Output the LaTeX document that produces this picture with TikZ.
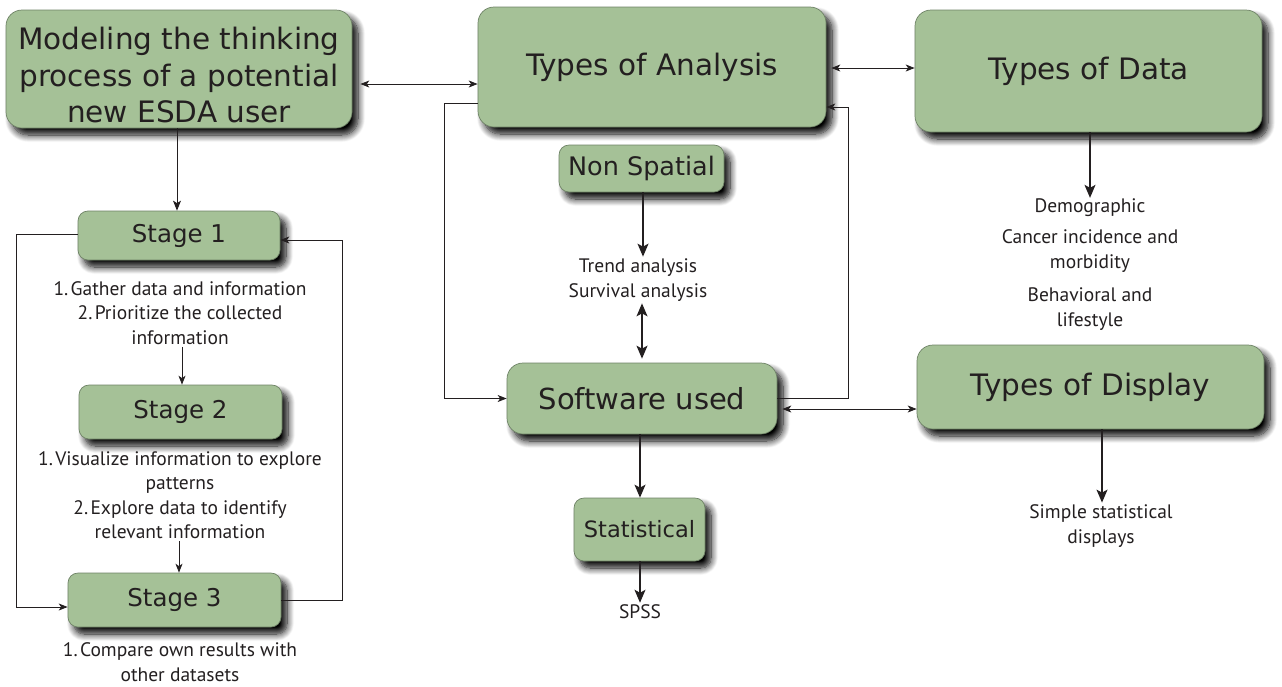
\documentclass[tikz,border=0pt]{standalone}
\usepackage{fontspec}
\setmainfont{PT Sans}
\newfontfamily\boxfont{DejaVu Sans}
\usetikzlibrary{arrows.meta,shadows.blur,calc}
\definecolor{boxgreen}{HTML}{A5C197}
\definecolor{boxedge}{HTML}{6E8266}
\definecolor{ink}{HTML}{231F20}
\tikzset{
  box/.style={draw=boxedge, line width=0.7pt, fill=boxgreen, rectangle, rounded corners=16pt,
    inner sep=0pt, align=center, text=ink,
    blur shadow={shadow xshift=6pt, shadow yshift=-7pt, shadow blur steps=10, shadow blur radius=7pt, shadow opacity=100}},
  smallbox/.style={box, rounded corners=10pt},
  note/.style={align=center, inner sep=2pt, text=ink, font=\fontsize{19.5}{24.5}\selectfont},
  conn/.style={draw=ink, line width=0.9pt},
  thinarrow/.style={conn, -{Stealth[length=9pt,width=7pt,inset=2.5pt]}},
  thindouble/.style={conn, {Stealth[length=9pt,width=7pt,inset=2.5pt]}-{Stealth[length=9pt,width=7pt,inset=2.5pt]}},
  bigarrow/.style={draw=ink, line width=1.3pt, -{Stealth[length=13pt,width=11pt,inset=3pt]}},
  bigdouble/.style={draw=ink, line width=1.3pt, {Stealth[length=13pt,width=11pt,inset=3pt]}-{Stealth[length=13pt,width=11pt,inset=3pt]}},
  midarrow/.style={draw=ink, line width=1pt, -{Stealth[length=10pt,width=8pt,inset=2.5pt]}},
}
\newcommand{\nd}{.\hspace{0.12em}}
\begin{document}
\begin{tikzpicture}[x=1pt,y=-1pt]
\useasboundingbox (0,0) rectangle (1282,686);

% boxes
\node[box, minimum width=346pt, minimum height=118pt, font=\boxfont\fontsize{29.5}{36.5}\selectfont] (model) at (179,69)
  {\raisebox{-16pt}[55pt][55pt]{\begin{tabular}{@{}c@{}}Modeling the thinking\\process of a potential\\new ESDA user\end{tabular}}};
\node[box, minimum width=348pt, minimum height=120pt, font=\boxfont\fontsize{29.5}{36}\selectfont] (analysis) at (652,67) {Types of Analysis};
\node[box, minimum width=347pt, minimum height=122pt, font=\boxfont\fontsize{29.5}{36}\selectfont] (data) at (1088.5,71) {Types of Data};
\node[smallbox, minimum width=165pt, minimum height=47pt, font=\boxfont\fontsize{25.5}{30}\selectfont] (nonsp) at (641.5,168.5) {Non Spatial};
\node[box, minimum width=270pt, minimum height=71pt, font=\boxfont\fontsize{29}{34}\selectfont] (soft) at (642,398.5) {Software used};
\node[smallbox, minimum width=131pt, minimum height=63pt, font=\boxfont\fontsize{22.5}{28}\selectfont] (stat) at (639.5,529.5) {Statistical};
\node[box, minimum width=347pt, minimum height=84pt, font=\boxfont\fontsize{29.5}{36}\selectfont] (display) at (1090.5,387) {Types of Display};
\node[smallbox, minimum width=202pt, minimum height=49pt, font=\boxfont\fontsize{24.5}{30}\selectfont] (stage1) at (179,235.5) {Stage 1};
\node[smallbox, minimum width=203pt, minimum height=54pt, font=\boxfont\fontsize{24.5}{30}\selectfont] (stage2) at (180.5,412) {Stage 2};
\node[smallbox, minimum width=213pt, minimum height=54pt, font=\boxfont\fontsize{24.5}{30}\selectfont] (stage3) at (174.5,600) {Stage 3};

% notes
\node[note] (n1) at (180,313) {1\nd Gather data and information\\2\nd Prioritize the collected\\information};
\node[note] (n2) at (180,495) {1\nd Visualize information to explore\\patterns\\2\nd Explore data to identify\\relevant information};
\node[note] (n3) at (180,662) {1\nd Compare own results with\\other datasets};
\node[note] (trend) at (638,280) {Trend analysis\\Survival analysis};
\node[note, inner sep=1pt] (demo) at (1090,208) {Demographic};
\node[note, inner sep=1pt] (cancer) at (1090,251) {Cancer incidence and\\morbidity};
\node[note, inner sep=1pt] (behav) at (1090,309) {Behavioral and\\lifestyle};
\node[note] (simple) at (1101,526) {Simple statistical\\displays};
\node[note] (spss) at (640,612) {SPSS};

% helper coordinates
\coordinate (yA) at (0,84);
\coordinate (yB) at (0,68);
\coordinate (yC) at (0,409);
\coordinate (c1) at (444,103);
\coordinate (c2) at (848,107);
\coordinate (c3) at (16,234);
\coordinate (c4) at (16,607);
\coordinate (c5) at (342,600);
\coordinate (c6) at (342,240);

% connectors
\draw[thindouble, shorten <=8pt] (model.east |- yA) -- (analysis.west |- yA);
\draw[thindouble, shorten <=5pt] (analysis.east |- yB) -- (data.west |- yB);
\draw[thindouble, shorten <=5pt] (soft.east |- yC) -- (display.west |- yC);

\draw[thinarrow] (analysis.west |- c1) -- (c1) |- (soft.west);
\draw[thinarrow] (soft.east) -| (c2) -- (analysis.east |- c2);

\draw[midarrow] (model.south -| 177,0) -- (stage1.north -| 177,0);
\draw[thinarrow] (stage1.west |- c3) -- (c3) -- (c4) -- (stage3.west |- c4);
\draw[thinarrow] (stage3.east |- c5) -- (c5) -- (c6) -- (stage1.east |- c6);
\draw[thinarrow] (n1.south -| 182,0) -- (stage2.north -| 182,0);
\draw[thinarrow] (n2.south -| 179,0) -- (stage3.north -| 179,0);

\draw[bigarrow] (nonsp.south -| 643,0) -- (trend.north -| 643,0);
\draw[bigdouble] (trend.south -| 642,0) -- ([yshift=4pt]soft.north -| 642,0);
\draw[bigarrow] (soft.south -| 640,0) -- (stat.north -| 640,0);
\draw[bigarrow] (stat.south -| 640,0) -- (spss.north -| 640,0);
\draw[bigarrow] (data.south -| 1090,0) -- (demo.north -| 1090,0);
\draw[bigarrow] (display.south -| 1102,0) -- (simple.north -| 1102,0);
\end{tikzpicture}
\end{document}
